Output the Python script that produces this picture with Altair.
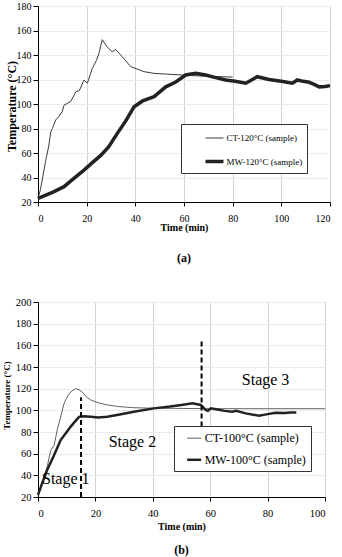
import altair as alt
import pandas as pd

SERIF = "Liberation Serif"

# ---------- (a) data ----------
ct120_t = [0, 1, 3.1, 4.5, 5.2, 5.9, 7.3, 8.6, 10, 10.7, 12, 13.4, 14.8, 15.5, 17, 18.9, 20.3, 22.3, 24, 25,
           26.4, 28.5, 30.5, 31.9, 34, 38.1, 43.6, 47.7, 52, 59.3, 65, 72, 80]
ct120_T = [23, 30, 53, 66.5, 77, 80, 87, 90, 94, 99, 100.5, 102, 107, 110, 111, 119.5, 117, 129, 135.5, 141,
           152.5, 146.5, 142.5, 144.5, 140, 130.5, 126.4, 125, 124.5, 123.7, 123, 122.5, 122]
mw120_t = [0, 3, 6.6, 10.7, 14, 18.9, 22, 25.8, 29, 32.6, 36, 39.5, 43, 47.7, 52.5, 56.6, 60.7, 64.8, 68.9,
           73, 77.1, 81, 85.4, 90.1, 94.9, 100, 104.5, 106.6, 109, 111.4, 113.5, 115.5, 118, 120]
mw120_T = [23, 25.5, 28.5, 32.5, 38, 46, 51.5, 58, 65, 76, 86, 97.8, 102.5, 106, 114, 118, 123.7, 125, 123.7,
           121.5, 119.6, 118.5, 117, 122.3, 120, 118.5, 117, 119.6, 118.5, 117.7, 116, 114, 114.3, 115]
series_a = ["CT-120°C (sample)", "MW-120°C (sample)"]

# ---------- (b) data ----------
ct100_t = [0, 3.2, 4.4, 5.6, 6.7, 8, 9.1, 10.5, 11.4, 13.1, 14.3, 15.4, 17, 18.4, 21, 24.1, 28, 33.4, 40, 60, 80, 100]
ct100_T = [22, 47.7, 63, 67.5, 81.8, 95, 106.5, 114, 117, 120, 119, 117, 112, 109.5, 107, 105, 103.5, 102.4,
           102, 101.5, 101.5, 101.5]
mw100_t = [0, 1.5, 3.2, 5.5, 7.9, 10, 11.4, 13, 14.3, 16, 18.4, 21, 24.1, 28, 33.4, 40.4, 46, 50, 53.8, 56.7,
           57.5, 58.4, 59.2, 60.2, 62, 65, 67.7, 69, 72.4, 75, 77, 80, 82.8, 86, 88, 90]
mw100_T = [22, 33, 45, 58, 72.6, 80, 85, 90, 94, 94.5, 94, 93.5, 94, 96, 98.7, 101.8, 103.5, 105, 106.5, 105,
           103, 100.3, 99.5, 101.8, 101, 99.5, 98.7, 99.5, 97.2, 96, 95, 96.5, 97.8, 97.5, 98, 98]
series_b = ["CT-100°C (sample)", "MW-100°C (sample)"]

stage_dash_x = [15, 57]
stage_dash_lo = [20, 85]
stage_dash_hi = [112, 166]
stage_labels = ["Stage 1", "Stage 2", "Stage 3"]
stage_t = [1.4, 32.9, 79.3]
stage_T = [36.6, 71, 128]
stage_align = ["left", "center", "center"]

x_ticks_a = [0, 20, 40, 60, 80, 100, 120]
y_ticks_a = [20, 40, 60, 80, 100, 120, 140, 160, 180]
x_ticks_b = [0, 20, 40, 60, 80, 100]
y_ticks_b = [20, 40, 60, 80, 100, 120, 140, 160, 180, 200]


def frame(ts, Ts, name):
    return pd.DataFrame({"t": ts, "T": Ts, "series": name})


df_a = pd.concat([frame(ct120_t, ct120_T, series_a[0]), frame(mw120_t, mw120_T, series_a[1])])
df_b = pd.concat([frame(ct100_t, ct100_T, series_b[0]), frame(mw100_t, mw100_T, series_b[1])])
df_dash = pd.DataFrame({"t": stage_dash_x, "T": stage_dash_lo, "hi": stage_dash_hi})
df_stage = pd.DataFrame({"label": stage_labels, "t": stage_t, "T": stage_T, "align": stage_align})


def x_axis(ticks, lab_size, title_y):
    return alt.Axis(values=ticks, title="Time (min)", labelFont=SERIF, labelFontSize=lab_size,
                    titleFont=SERIF, titleFontSize=10, titleFontWeight="bold", titleY=title_y,
                    titleBaseline="middle", tickSize=4, tickColor="black", labelPadding=7,
                    labelOverlap=False, domainColor="black", gridColor="#d3d3d3", labelColor="black",
                    titleColor="black")


def y_axis(ticks, lab_size, title_size, title_x, title_y):
    return alt.Axis(values=ticks, title="Temperature (°C)", labelFont=SERIF, labelFontSize=lab_size,
                    titleFont=SERIF, titleFontSize=title_size, titleFontWeight="bold", titleX=title_x,
                    titleY=title_y, titleBaseline="middle", tickSize=5, tickColor="black", labelPadding=2,
                    labelOverlap=False, domainColor="black", gridColor="#ebebeb", labelColor="black",
                    titleColor="black")


def legend(x, y, pad, rowpad, size, sym, symoff, laboff):
    return alt.Legend(title=None, orient="none", legendX=x, legendY=y, padding=pad, rowPadding=rowpad,
                      labelFont=SERIF, labelFontSize=size, labelColor="black", symbolType="stroke",
                      symbolSize=sym, symbolOffset=symoff, labelOffset=laboff, strokeColor="#333",
                      fillColor="white")


# ---------- chart (a) ----------
leg_a = legend(143, 118, 4.5, 7, 9, 324, 18, 1)
lines_a = alt.Chart(df_a).mark_line().encode(
    x=alt.X("t:Q", scale=alt.Scale(domain=[0, 120], nice=False), axis=x_axis(x_ticks_a, 10, 25)),
    y=alt.Y("T:Q", scale=alt.Scale(domain=[20, 180], nice=False), axis=y_axis(y_ticks_a, 10, 12, -27, 100)),
    color=alt.Color("series:N", scale=alt.Scale(domain=series_a, range=["#3a3a3a", "#222222"]), legend=leg_a),
    strokeWidth=alt.StrokeWidth("series:N", scale=alt.Scale(domain=series_a, range=[1, 3.5]), legend=leg_a),
)
chart_a = alt.layer(lines_a).properties(
    width=292, height=196,
    title=alt.TitleParams("(a)", orient="bottom", font=SERIF, fontSize=12, fontWeight="bold", offset=21,
                          color="black"),
    view=alt.ViewBackground(stroke="#9a9a9a"),
)

# ---------- chart (b) ----------
leg_b = legend(136, 124, 4.7, 6.6, 12, 196, 7, 2)
xb = alt.X("t:Q", scale=alt.Scale(domain=[0, 100], nice=False), axis=x_axis(x_ticks_b, 10.5, 29))
yb = alt.Y("T:Q", scale=alt.Scale(domain=[20, 200], nice=False), axis=y_axis(y_ticks_b, 10.5, 9, -32, 93))
lines_b = alt.Chart(df_b).mark_line().encode(
    x=xb, y=yb,
    color=alt.Color("series:N", scale=alt.Scale(domain=series_b, range=["#3a3a3a", "#222222"]), legend=leg_b),
    strokeWidth=alt.StrokeWidth("series:N", scale=alt.Scale(domain=series_b, range=[0.8, 2.5]), legend=leg_b),
)
dash_b = alt.Chart(df_dash).mark_rule(color="black", strokeWidth=2, strokeDash=[5, 3]).encode(
    x=xb, y=yb, y2="hi:Q")
text_left = alt.Chart(df_stage).transform_filter(alt.datum.align == "left").mark_text(
    font=SERIF, fontSize=16, baseline="middle", align="left", color="black").encode(
    x=xb, y=yb, text="label:N")
text_center = alt.Chart(df_stage).transform_filter(alt.datum.align == "center").mark_text(
    font=SERIF, fontSize=16, baseline="middle", align="center", color="black").encode(
    x=xb, y=yb, text="label:N")
chart_b = alt.layer(lines_b, dash_b, text_left, text_center).properties(
    width=287, height=195,
    title=alt.TitleParams("(b)", orient="bottom", font=SERIF, fontSize=12, fontWeight="bold", offset=14,
                          color="black"),
    view=alt.ViewBackground(stroke="#444444"),
)

chart = alt.vconcat(chart_a, chart_b, spacing=100, bounds="flush").resolve_scale(
    color="independent", strokeWidth="independent").resolve_legend(
    color="independent", strokeWidth="independent").properties(
    padding={"left": 1, "top": 0, "right": 2, "bottom": 0}, background="white")

chart.save("out.html", embed_options={"renderer": "svg", "actions": False})
